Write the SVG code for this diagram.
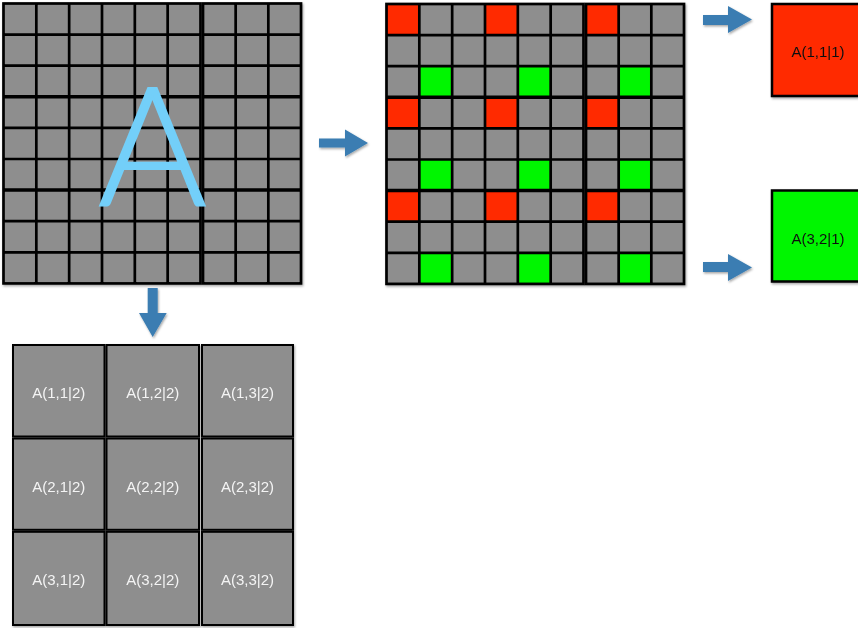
<svg xmlns="http://www.w3.org/2000/svg" xmlns:xlink="http://www.w3.org/1999/xlink" width="858" height="628" viewBox="0 0 858 628">
<style>
  .cell{fill:#8e8e8e}
  .grid{fill:none;stroke:#000;stroke-width:2.7}
  .thick{fill:none;stroke:#000;stroke-width:3.5}
  .red{fill:#ff2a00}
  .green{fill:#00f600}
  .arrow{fill:#3a7db2}
  .lbl{font-family:"Liberation Sans",Arial,sans-serif;font-size:15px;text-anchor:middle}
  .wl{fill:#f4f4f4}
  .bl{fill:#111}
  .box{stroke:#000;stroke-width:2.5}
  .bcell{fill:#8e8e8e;stroke:#000;stroke-width:2}
</style>
<defs>
  <filter id="sh" x="-10%" y="-10%" width="130%" height="130%">
    <feDropShadow dx="1" dy="1.5" stdDeviation="1" flood-color="#000" flood-opacity="0.35"/>
  </filter>
  <g id="gridBg">
    <rect class="cell" x="3.5" y="3.5" width="197" height="279.9"/>
    <rect class="cell" x="203" y="3.5" width="98" height="279.9"/>
  </g>
  <g id="gridLines">
    <rect class="grid" x="3.5" y="3.5" width="197" height="279.9"/>
    <rect class="grid" x="203" y="3.5" width="98" height="279.9"/>
    <path class="grid" d="M36.33 3.5V283.4M69.17 3.5V283.4M102 3.5V283.4M134.83 3.5V283.4M167.67 3.5V283.4M235.67 3.5V283.4M268.33 3.5V283.4
      M3.5 34.6H200.5M203 34.6H301M3.5 65.7H200.5M203 65.7H301M3.5 127.9H200.5M203 127.9H301M3.5 159H200.5M203 159H301
      M3.5 221.2H200.5M203 221.2H301M3.5 252.3H200.5M203 252.3H301"/>
    <path class="thick" d="M3.5 96.8H200.5M203 96.8H301M3.5 190.1H200.5M203 190.1H301"/>
  </g>
</defs>

<g id="matrixA" filter="url(#sh)">
  <use xlink:href="#gridBg"/>
  <use xlink:href="#gridLines"/>
  <text x="152.5" y="204.5" font-family="Lato,'Liberation Sans',sans-serif" font-weight="300" font-size="166" fill="#73cff9" stroke="#73cff9" stroke-width="2" text-anchor="middle">A</text>
</g>

<g id="matrixColored" filter="url(#sh)" transform="translate(383,0.5)">
  <use xlink:href="#gridBg"/>
  <g class="red">
    <rect x="3.5" y="3.5" width="32.83" height="31.1"/>
    <rect x="102" y="3.5" width="32.83" height="31.1"/>
    <rect x="203" y="3.5" width="32.67" height="31.1"/>
    <rect x="3.5" y="96.8" width="32.83" height="31.1"/>
    <rect x="102" y="96.8" width="32.83" height="31.1"/>
    <rect x="203" y="96.8" width="32.67" height="31.1"/>
    <rect x="3.5" y="190.1" width="32.83" height="31.1"/>
    <rect x="102" y="190.1" width="32.83" height="31.1"/>
    <rect x="203" y="190.1" width="32.67" height="31.1"/>
  </g>
  <g class="green">
    <rect x="36.33" y="65.7" width="32.84" height="31.1"/>
    <rect x="134.83" y="65.7" width="32.84" height="31.1"/>
    <rect x="235.67" y="65.7" width="32.66" height="31.1"/>
    <rect x="36.33" y="159" width="32.84" height="31.1"/>
    <rect x="134.83" y="159" width="32.84" height="31.1"/>
    <rect x="235.67" y="159" width="32.66" height="31.1"/>
    <rect x="36.33" y="252.3" width="32.84" height="31.1"/>
    <rect x="134.83" y="252.3" width="32.84" height="31.1"/>
    <rect x="235.67" y="252.3" width="32.66" height="31.1"/>
  </g>
  <use xlink:href="#gridLines"/>
</g>

<g id="boxRed" filter="url(#sh)">
  <rect class="box red" x="772" y="4" width="92" height="92"/>
  <text class="lbl bl" x="818" y="57.3">A(1,1|1)</text>
</g>

<g id="boxGreen" filter="url(#sh)">
  <rect class="box green" x="772" y="190.5" width="92" height="91"/>
  <text class="lbl bl" x="818" y="244">A(3,2|1)</text>
</g>

<g id="blocks" filter="url(#sh)">
  <g id="b11"><rect class="bcell" x="13" y="345" width="91.5" height="91.5"/><text class="lbl wl" x="58.75" y="398">A(1,1|2)</text></g>
  <g id="b12"><rect class="bcell" x="106.5" y="345" width="92.5" height="91.5"/><text class="lbl wl" x="152.75" y="398">A(1,2|2)</text></g>
  <g id="b13"><rect class="bcell" x="202" y="345" width="91" height="91.5"/><text class="lbl wl" x="247.5" y="398">A(1,3|2)</text></g>
  <g id="b21"><rect class="bcell" x="13" y="438.5" width="91.5" height="91.3"/><text class="lbl wl" x="58.75" y="491.5">A(2,1|2)</text></g>
  <g id="b22"><rect class="bcell" x="106.5" y="438.5" width="92.5" height="91.3"/><text class="lbl wl" x="152.75" y="491.5">A(2,2|2)</text></g>
  <g id="b23"><rect class="bcell" x="202" y="438.5" width="91" height="91.3"/><text class="lbl wl" x="247.5" y="491.5">A(2,3|2)</text></g>
  <g id="b31"><rect class="bcell" x="13" y="531.8" width="91.5" height="93.2"/><text class="lbl wl" x="58.75" y="584.5">A(3,1|2)</text></g>
  <g id="b32"><rect class="bcell" x="106.5" y="531.8" width="92.5" height="93.2"/><text class="lbl wl" x="152.75" y="584.5">A(3,2|2)</text></g>
  <g id="b33"><rect class="bcell" x="202" y="531.8" width="91" height="93.2"/><text class="lbl wl" x="247.5" y="584.5">A(3,3|2)</text></g>
</g>

<g id="connectors" filter="url(#sh)">
  <polygon class="arrow" points="319,138.5 345,138.5 345,129.5 368,143 345,156.5 345,147.5 319,147.5"/>
  <polygon class="arrow" points="703,15 728,15 728,6 752,19.5 728,33 728,25 703,25"/>
  <polygon class="arrow" points="703,262 728,262 728,254 752,267.5 728,281 728,272 703,272"/>
  <polygon class="arrow" points="147.7,288 157.7,288 157.7,313 166.7,313 152.7,337 139,313 147.7,313"/>
</g>
</svg>
